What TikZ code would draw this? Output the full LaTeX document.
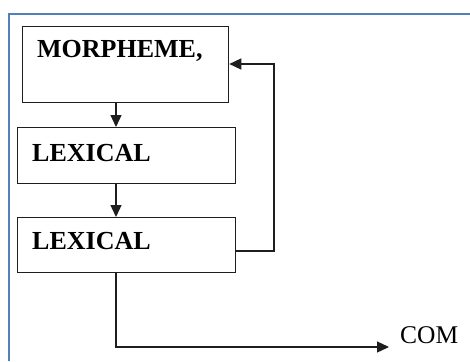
\documentclass[tikz,border=0pt]{standalone}
\usepackage{fontspec}
\setmainfont{Liberation Serif}
\usetikzlibrary{arrows.meta}
\definecolor{frameblue}{RGB}{79,129,189}
\definecolor{ink}{RGB}{30,30,30}
\tikzset{
  box/.style={draw=ink, line width=1.3pt, rectangle, inner sep=0pt, anchor=north west},
  lbl/.style={anchor=base west, inner sep=0pt, font=\fontsize{26}{30}\selectfont\bfseries},
  plain/.style={anchor=base west, inner sep=0pt, font=\fontsize{25.5}{30}\selectfont},
  conn/.style={draw=ink, line width=1.3pt},
  arr/.style={conn, -{Triangle[length=12pt,width=11pt]}},
}
\begin{document}
\begin{tikzpicture}[x=1pt,y=-1pt]
\useasboundingbox (0,0) rectangle (470,361);
\fill[white] (0,0) rectangle (470,361);
\draw[frameblue, line width=1.6pt] (470,14) -- (9,14) -- (9,361);
% boxes
\node[box, minimum width=206pt, minimum height=76pt] (m) at (22,26) {};
\node[box, minimum width=218pt, minimum height=56pt] (l1) at (17,127) {};
\node[box, minimum width=218pt, minimum height=55pt] (l2) at (17,217) {};
% texts
\node[lbl] (tm) at (37,57) {MORPHEME,};
\node[lbl] (t1) at (32,161) {LEXICAL};
\node[lbl] (t2) at (32,249) {LEXICAL};
\node[plain] (com) at (400,343) {COM};
% coordinates
\coordinate (x1) at (116,0);
\coordinate (fb) at (274,251);
\coordinate (fbt) at (274,64);
\coordinate (cb) at (116,347);
\coordinate (cend) at (389,347);
% connectors
\draw[arr] (m.south -| x1) -- (l1.north -| x1);
\draw[arr] (l1.south -| x1) -- (l2.north -| x1);
\draw[arr] (l2.east |- fb) -- (fb) -- (fbt) -- (m.east |- fbt);
\draw[arr] (l2.south -| cb) -- (cb) -- (cend);
\end{tikzpicture}
\end{document}
